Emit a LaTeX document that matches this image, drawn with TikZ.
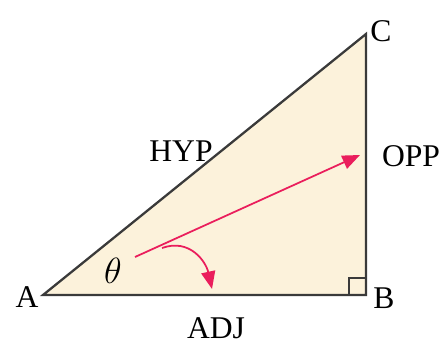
\documentclass[tikz,border=0pt]{standalone}
\usepackage{fontspec}
\setmainfont{Liberation Serif}
\usepackage{xcolor}
\usetikzlibrary{arrows.meta}
\definecolor{TriFill}{HTML}{FCF2DB}
\definecolor{TriEdge}{HTML}{3A3A3A}
\definecolor{TriPink}{HTML}{EA1E5C}

\begin{document}
\begin{tikzpicture}[x=0.02cm,y=-0.02cm,
  side/.style={draw=TriEdge,line width=1.3pt,line join=miter},
  lbl/.style={font=\fontsize{18}{21}\selectfont,inner sep=0pt},
  ray/.style={-{Triangle[length=10pt,width=8pt]},draw=TriPink,fill=none,line width=1pt}
]
\useasboundingbox (0,0) rectangle (445,347);
\coordinate (A) at (43,295);
\coordinate (B) at (366,295);
\coordinate (C) at (366,34);
\fill[TriFill] (A) -- (B) -- (C) -- cycle;
\draw[side] (A) -- (B) -- (C) -- cycle;
% right angle mark
\draw[TriEdge,line width=0.8pt] (B) ++(-17,0) -- ++(0,-17) -- ++(17,0);
% vertex and side labels
\node[lbl] (labA) at (27,297) {A};
\node[lbl] (labB) at (384,298) {B};
\node[lbl] (labC) at (381,31) {C};
\node[lbl] (hyp) at (181,151) {HYP};
\node[lbl] (opp) at (411,156) {OPP};
\node[lbl] (adj) at (216,328) {ADJ};
\node[lbl,font=\fontsize{20}{22}\selectfont] (theta) at (113,271) {$\theta$};
% arrows from the angle
\coordinate (start) at (135,257);
\coordinate (tip) at (360,155);
\coordinate (bend) at (162,248);
\coordinate (down) at (212,289);
\draw[ray] (start) -- (tip);
\draw[ray] (bend) .. controls (190,238) and (206,262) .. (down);
\end{tikzpicture}
\end{document}
